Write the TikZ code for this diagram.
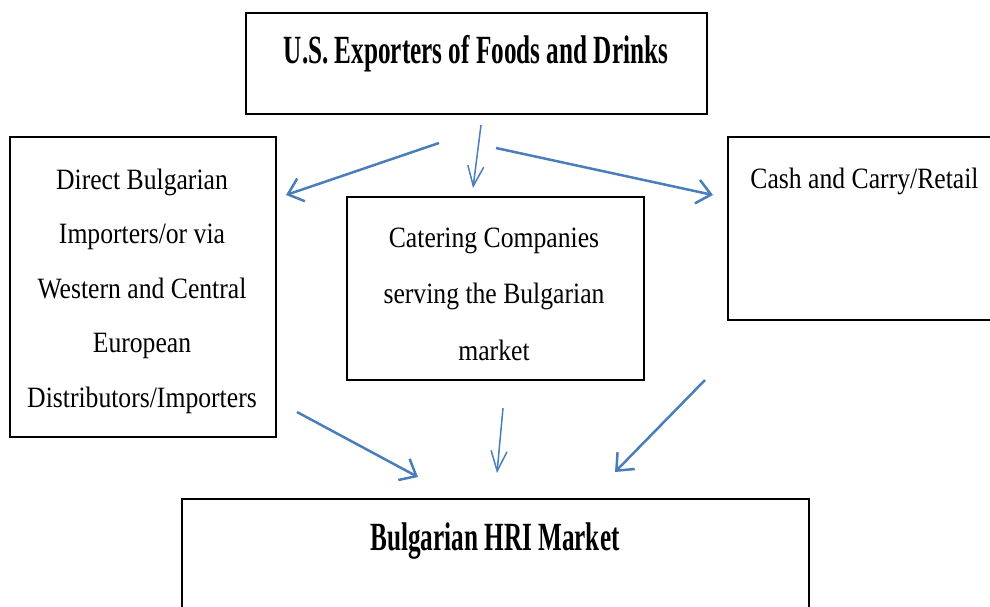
\documentclass[tikz,border=0pt]{standalone}
\usepackage{fontspec}
\setmainfont{Liberation Serif}[FakeStretch=0.87]
\newfontfamily\headfont{Liberation Serif}[FakeStretch=0.63]
\usetikzlibrary{arrows.meta}
\definecolor{flowblue}{HTML}{4A7EBB}
\tikzset{
  box/.style={draw=black, line width=1.6pt, rectangle, inner sep=0pt, anchor=north west},
  headtext/.style={font=\headfont\bfseries\fontsize{40}{48}\selectfont, anchor=base, inner sep=0pt},
  bodytext/.style={font=\fontsize{29.5}{54.5}\selectfont, align=center, anchor=base, inner sep=0pt},
  flow/.style={draw=flowblue, line width=2.5pt, -{Straight Barb[length=14pt,width=24pt]}},
  thinflow/.style={draw=flowblue, line width=1.5pt, -{Straight Barb[length=20pt,width=16pt]}}
}
\begin{document}
\begin{tikzpicture}[x=1pt, y=-1pt]
  \useasboundingbox (0,0) rectangle (990,606);
  \clip (0,0) rectangle (990,606);

  % boxes
  \node[box, minimum width=461pt, minimum height=101pt] (exp) at (245,12) {};
  \node[box, minimum width=266pt, minimum height=300pt] (imp) at (9,136) {};
  \node[box, minimum width=297pt, minimum height=183pt] (cat) at (346,196) {};
  \node[box, minimum width=300pt, minimum height=183pt] (cash) at (727,136) {};
  \node[box, minimum width=627pt, minimum height=160pt] (hri) at (181,498) {};

  % labels (multi-line labels sit on the baseline of their last line)
  \node[headtext] (exptext) at (476,63) {U.S. Exporters of Foods and Drinks};
  \node[bodytext] (imptext) at (142,407) {Direct Bulgarian\\Importers/or via\\Western and Central\\European\\Distributors/Importers};
  \node[bodytext, font=\fontsize{29.5}{56.5}\selectfont] (cattext) at (494,360) {Catering Companies\\serving the Bulgarian\\market};
  \node[bodytext] (cashtext) at (864.5,188) {Cash and Carry/Retail};
  \node[headtext] (hritext) at (495,550) {Bulgarian HRI Market};

  % connector end points
  \coordinate (a1s) at (439,143); \coordinate (a1e) at (286,195);
  \coordinate (a2s) at (481,125); \coordinate (a2e) at (473,188);
  \coordinate (a3s) at (496,148); \coordinate (a3e) at (713,195);
  \coordinate (a4s) at (297,412); \coordinate (a4e) at (418,477);
  \coordinate (a5s) at (503,408); \coordinate (a5e) at (497,473);
  \coordinate (a6s) at (705,380); \coordinate (a6e) at (615,472);

  % flows
  \draw[flow] (a1s) -- (a1e);
  \draw[thinflow] (a2s) -- (a2e);
  \draw[flow] (a3s) -- (a3e);
  \draw[flow] (a4s) -- (a4e);
  \draw[thinflow] (a5s) -- (a5e);
  \draw[flow] (a6s) -- (a6e);
\end{tikzpicture}
\end{document}
